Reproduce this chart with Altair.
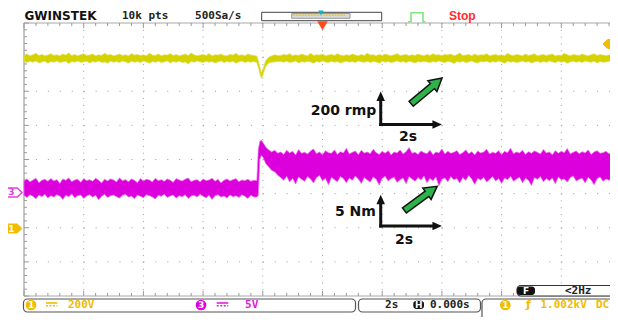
import altair as alt
import pandas as pd

# ---------------- data (read from the screen) ----------------
# time base in seconds (2 s/div, trigger at 0 s)
T_PRE = [-10.0, -9.9, -9.8, -9.7, -9.6, -9.5, -9.4, -9.3, -9.2, -9.1,
         -9.0, -8.9, -8.8, -8.7, -8.6, -8.5, -8.4, -8.3, -8.2, -8.1,
         -8.0, -7.9, -7.8, -7.7, -7.6, -7.5, -7.4, -7.3, -7.2, -7.1,
         -7.0, -6.9, -6.8, -6.7, -6.6, -6.5, -6.4, -6.3, -6.2, -6.1,
         -6.0, -5.9, -5.8, -5.7, -5.6, -5.5, -5.4, -5.3, -5.2, -5.1,
         -5.0, -4.9, -4.8, -4.7, -4.6, -4.5, -4.4, -4.3, -4.2, -4.1,
         -4.0, -3.9, -3.8, -3.7, -3.6, -3.5, -3.4, -3.3, -3.2, -3.1,
         -3.0, -2.9, -2.8, -2.7, -2.6, -2.5, -2.4, -2.3]
T_EVT = [-2.2, -2.15, -2.1, -2.05, -2.0, -1.95, -1.9, -1.8, -1.7, -1.6, -1.5]
T_POST = [-1.4, -1.3, -1.2, -1.1, -1.0, -0.9, -0.8, -0.7, -0.6, -0.5,
          -0.4, -0.3, -0.2, -0.1, 0.0, 0.1, 0.2, 0.3, 0.4, 0.5,
          0.6, 0.7, 0.8, 0.9, 1.0, 1.1, 1.2, 1.3, 1.4, 1.5,
          1.6, 1.7, 1.8, 1.9, 2.0, 2.1, 2.2, 2.3, 2.4, 2.5,
          2.6, 2.7, 2.8, 2.9, 3.0, 3.1, 3.2, 3.3, 3.4, 3.5,
          3.6, 3.7, 3.8, 3.9, 4.0, 4.1, 4.2, 4.3, 4.4, 4.5,
          4.6, 4.7, 4.8, 4.9, 5.0, 5.1, 5.2, 5.3, 5.4, 5.5,
          5.6, 5.7, 5.8, 5.9, 6.0, 6.1, 6.2, 6.3, 6.4, 6.5,
          6.6, 6.7, 6.8, 6.9, 7.0, 7.1, 7.2, 7.3, 7.4, 7.5,
          7.6, 7.7, 7.8, 7.9, 8.0, 8.1, 8.2, 8.3, 8.4, 8.5,
          8.6, 8.7, 8.8, 8.9, 9.0, 9.1, 9.2, 9.3, 9.4, 9.5,
          9.6, 9.7, 9.8, 9.9, 10.0]

# CH1 (yellow, speed) noise envelope, in divisions
CH1_HI_PRE = [3.06, 3.09, 3.04, 3.07, 3.11, 3.05, 3.08, 3.04, 3.06, 3.10,
              3.05, 3.07, 3.04, 3.09, 3.06, 3.12, 3.05, 3.08, 3.04, 3.07,
              3.10, 3.05, 3.06, 3.09, 3.04, 3.07, 3.05, 3.11, 3.06, 3.08,
              3.04, 3.06, 3.09, 3.05, 3.07, 3.04, 3.10, 3.06, 3.08, 3.05,
              3.07, 3.04, 3.11, 3.06, 3.05, 3.09, 3.04, 3.07, 3.06, 3.10,
              3.05, 3.08, 3.04, 3.06, 3.09, 3.05, 3.12, 3.07, 3.04, 3.06,
              3.08, 3.05, 3.10, 3.04, 3.07, 3.06, 3.09, 3.05, 3.04, 3.08,
              3.06, 3.11, 3.05, 3.07, 3.04, 3.09, 3.06, 3.05]
CH1_LO_PRE = [2.87, 2.84, 2.88, 2.85, 2.89, 2.83, 2.86, 2.88, 2.82, 2.87,
              2.85, 2.89, 2.84, 2.86, 2.88, 2.81, 2.87, 2.85, 2.89, 2.84,
              2.86, 2.88, 2.83, 2.87, 2.85, 2.89, 2.84, 2.86, 2.82, 2.88,
              2.85, 2.87, 2.84, 2.89, 2.86, 2.83, 2.88, 2.85, 2.87, 2.84,
              2.89, 2.86, 2.82, 2.87, 2.85, 2.88, 2.84, 2.86, 2.89, 2.83,
              2.87, 2.85, 2.88, 2.84, 2.86, 2.80, 2.87, 2.85, 2.89, 2.86,
              2.84, 2.88, 2.85, 2.87, 2.83, 2.86, 2.89, 2.84, 2.87, 2.85,
              2.88, 2.82, 2.86, 2.89, 2.84, 2.87, 2.85, 2.87]
CH1_HI_EVT = [3.03, 2.90, 2.72, 2.55, 2.64, 2.78, 2.90, 3.00, 3.04, 3.07, 3.05]
CH1_LO_EVT = [2.84, 2.70, 2.52, 2.38, 2.46, 2.60, 2.73, 2.83, 2.85, 2.86, 2.87]
CH1_HI_POST = [3.05, 3.08, 3.06, 3.10, 3.04, 3.07, 3.05, 3.09, 3.06, 3.04,
               3.11, 3.05, 3.07, 3.06, 3.09, 3.04, 3.06, 3.08, 3.05, 3.10,
               3.06, 3.04, 3.07, 3.05, 3.09, 3.06, 3.04, 3.08, 3.05, 3.11,
               3.06, 3.07, 3.04, 3.08, 3.05, 3.09, 3.06, 3.04, 3.07, 3.10,
               3.05, 3.06, 3.08, 3.04, 3.07, 3.05, 3.09, 3.06, 3.04, 3.08,
               3.05, 3.10, 3.06, 3.07, 3.05, 3.08, 3.06, 3.09, 3.04, 3.07,
               3.12, 3.05, 3.06, 3.08, 3.04, 3.09, 3.05, 3.07, 3.06, 3.10,
               3.04, 3.06, 3.08, 3.05, 3.07, 3.04, 3.11, 3.06, 3.05, 3.08,
               3.06, 3.04, 3.09, 3.05, 3.07, 3.10, 3.04, 3.06, 3.08, 3.05,
               3.07, 3.09, 3.04, 3.06, 3.05, 3.11, 3.07, 3.04, 3.08, 3.06,
               3.05, 3.09, 3.06, 3.04, 3.07, 3.10, 3.05, 3.08, 3.06, 3.04,
               3.07, 3.05, 3.09, 3.06, 3.08]
CH1_LO_POST = [2.87, 2.85, 2.88, 2.84, 2.86, 2.89, 2.83, 2.87, 2.85, 2.88,
               2.86, 2.82, 2.87, 2.85, 2.89, 2.86, 2.84, 2.88, 2.85, 2.87,
               2.83, 2.86, 2.88, 2.85, 2.87, 2.84, 2.89, 2.86, 2.85, 2.88,
               2.84, 2.87, 2.86, 2.82, 2.88, 2.85, 2.87, 2.84, 2.86, 2.89,
               2.85, 2.87, 2.84, 2.88, 2.86, 2.83, 2.87, 2.85, 2.88, 2.86,
               2.84, 2.87, 2.85, 2.89, 2.86, 2.84, 2.88, 2.86, 2.81, 2.87,
               2.85, 2.88, 2.84, 2.86, 2.89, 2.85, 2.83, 2.87, 2.86, 2.88,
               2.84, 2.87, 2.85, 2.89, 2.86, 2.82, 2.88, 2.85, 2.87, 2.84,
               2.86, 2.89, 2.85, 2.87, 2.83, 2.86, 2.88, 2.84, 2.87, 2.85,
               2.89, 2.86, 2.84, 2.88, 2.85, 2.87, 2.82, 2.86, 2.88, 2.85,
               2.87, 2.84, 2.89, 2.86, 2.85, 2.88, 2.83, 2.87, 2.85, 2.86,
               2.88, 2.84, 2.87, 2.85, 2.86]

# CH3 (magenta, torque) noise envelope, in divisions
CH3_HI_PRE = [-0.62, -0.57, -0.66, -0.60, -0.55, -0.68, -0.61, -0.58, -0.64, -0.56,
              -0.63, -0.59, -0.70, -0.57, -0.61, -0.54, -0.65, -0.60, -0.58, -0.67,
              -0.56, -0.62, -0.59, -0.64, -0.55, -0.61, -0.69, -0.58, -0.63, -0.57,
              -0.60, -0.66, -0.54, -0.62, -0.59, -0.65, -0.57, -0.61, -0.68, -0.56,
              -0.63, -0.58, -0.60, -0.66, -0.55, -0.62, -0.59, -0.64, -0.57, -0.61,
              -0.67, -0.56, -0.60, -0.63, -0.58, -0.54, -0.65, -0.61, -0.59, -0.66,
              -0.57, -0.62, -0.60, -0.55, -0.64, -0.58, -0.69, -0.61, -0.57, -0.63,
              -0.59, -0.56, -0.65, -0.60, -0.62, -0.58, -0.64, -0.61]
CH3_LO_PRE = [-1.05, -1.11, -1.03, -1.08, -1.15, -1.04, -1.09, -1.02, -1.13, -1.06,
              -1.10, -1.03, -1.07, -1.17, -1.05, -1.09, -1.01, -1.12, -1.06, -1.04,
              -1.14, -1.07, -1.03, -1.10, -1.05, -1.18, -1.08, -1.02, -1.11, -1.06,
              -1.04, -1.09, -1.13, -1.05, -1.02, -1.10, -1.07, -1.15, -1.04, -1.08,
              -1.12, -1.03, -1.06, -1.10, -1.16, -1.05, -1.08, -1.02, -1.11, -1.07,
              -1.04, -1.13, -1.06, -1.09, -1.03, -1.14, -1.07, -1.05, -1.10, -1.02,
              -1.08, -1.12, -1.05, -1.17, -1.06, -1.03, -1.10, -1.07, -1.13, -1.04,
              -1.09, -1.06, -1.11, -1.03, -1.08, -1.14, -1.05, -1.10]
CH3_HI_EVT = [-0.62, 0.30, 0.52, 0.57, 0.50, 0.44, 0.36, 0.28, 0.22, 0.27, 0.18]
CH3_LO_EVT = [-1.10, -1.05, 0.00, 0.12, 0.08, -0.02, -0.12, -0.22, -0.32, -0.36, -0.46]
CH3_HI_POST = [0.22, 0.15, 0.27, 0.19, 0.24, 0.13, 0.29, 0.18, 0.21, 0.16,
               0.25, 0.31, 0.17, 0.22, 0.14, 0.26, 0.20, 0.18, 0.28, 0.15,
               0.23, 0.19, 0.33, 0.16, 0.21, 0.25, 0.14, 0.27, 0.19, 0.22,
               0.17, 0.30, 0.20, 0.15, 0.24, 0.18, 0.26, 0.13, 0.22, 0.19,
               0.28, 0.16, 0.23, 0.35, 0.18, 0.21, 0.15, 0.25, 0.20, 0.17,
               0.27, 0.14, 0.22, 0.19, 0.31, 0.16, 0.24, 0.18, 0.21, 0.26,
               0.15, 0.20, 0.28, 0.17, 0.23, 0.13, 0.25, 0.19, 0.22, 0.30,
               0.16, 0.21, 0.18, 0.26, 0.14, 0.24, 0.20, 0.33, 0.17, 0.22,
               0.19, 0.27, 0.15, 0.23, 0.18, 0.25, 0.21, 0.16, 0.29, 0.19,
               0.22, 0.14, 0.26, 0.18, 0.24, 0.20, 0.32, 0.16, 0.21, 0.25,
               0.17, 0.23, 0.19, 0.28, 0.15, 0.22, 0.26, 0.18, 0.20, 0.24,
               0.16, 0.27, 0.21, 0.18, 0.23]
CH3_LO_POST = [-0.53, -0.61, -0.49, -0.66, -0.55, -0.72, -0.51, -0.58, -0.64, -0.50,
               -0.57, -0.69, -0.53, -0.47, -0.62, -0.55, -0.74, -0.52, -0.59, -0.65,
               -0.50, -0.56, -0.68, -0.54, -0.61, -0.48, -0.57, -0.70, -0.53, -0.60,
               -0.66, -0.51, -0.58, -0.75, -0.55, -0.49, -0.63, -0.56, -0.52, -0.67,
               -0.59, -0.54, -0.71, -0.50, -0.57, -0.64, -0.53, -0.60, -0.48, -0.68,
               -0.55, -0.62, -0.51, -0.77, -0.58, -0.54, -0.65, -0.50, -0.59, -0.56,
               -0.69, -0.53, -0.61, -0.47, -0.57, -0.73, -0.55, -0.60, -0.52, -0.66,
               -0.58, -0.50, -0.63, -0.56, -0.70, -0.54, -0.59, -0.49, -0.64, -0.57,
               -0.52, -0.68, -0.55, -0.61, -0.76, -0.53, -0.58, -0.50, -0.65, -0.56,
               -0.62, -0.54, -0.71, -0.51, -0.59, -0.57, -0.66, -0.53, -0.48, -0.63,
               -0.58, -0.55, -0.69, -0.52, -0.60, -0.74, -0.56, -0.51, -0.64, -0.57,
               -0.61, -0.53, -0.67, -0.55, -0.59]

# screen graticule: 10 x 8 divisions, 5 minor steps each
GRID_T = [-8, -6, -4, -2, 0, 2, 4, 6, 8]
GRID_V = [-3, -2, -1, 0, 1, 2, 3]

# texts
HEADER_MONO = ["10k pts", "500Sa/s"]
LOGO = "GWINSTEK"
STATE = "Stop"
CH1_SCALE = "200V"
CH3_SCALE = "5V"
TIMEBASE = "2s"
HPOS = "0.000s"
TRIG_LEVEL = "1.002kV"
TRIG_COUPLING = "DC"
TRIG_FREQ = "<2Hz"
ANNOT_SPEED = "200 rmp"
ANNOT_TORQUE = "5 Nm"
ANNOT_TIME = "2s"

# ---------------- scales (screen in seconds x divisions) ----------------
XS = alt.Scale(domain=[-10, 10], range=[16, 613], nice=False, zero=False)
YS = alt.Scale(domain=[-4, 4], range=[288, 15], nice=False, zero=False)


def ex(f):
    return alt.X(f, type="quantitative", scale=XS, axis=None)


def ey(f):
    return alt.Y(f, type="quantitative", scale=YS, axis=None)


def D(**cols):
    return pd.DataFrame(cols)


layers = []

# graticule dots
layers.append(alt.Chart(D(t=GRID_T, a=[4.0] * len(GRID_T), b=[-4.0] * len(GRID_T)))
              .mark_rule(color="#9c9c9c", strokeWidth=1, strokeDash=[1, 5.825])
              .encode(x=ex("t"), y=ey("a"), y2=alt.Y2("b")))
layers.append(alt.Chart(D(v=GRID_V, a=[-10.0] * len(GRID_V), b=[10.0] * len(GRID_V)))
              .mark_rule(color="#9c9c9c", strokeWidth=1, strokeDash=[1, 10.94])
              .encode(x=ex("a"), x2=alt.X2("b"), y=ey("v")))

# border rulers
layers.append(alt.Chart(D(a=[-10.0, -10.0], b=[10.0, 10.0], v=[4.0, -4.0]))
              .mark_rule(color="#a8a8a8", strokeWidth=1)
              .encode(x=ex("a"), x2=alt.X2("b"), y=ey("v")))
layers.append(alt.Chart(D(t=[-10.0], a=[-4.0], b=[4.0]))
              .mark_rule(color="#8a8a8a", strokeWidth=1)
              .encode(x=ex("t"), y=ey("a"), y2=alt.Y2("b")))
nt = 51
top_t = [-10 + 0.4 * k for k in range(nt)]
layers.append(alt.Chart(D(t=top_t, a=[4.0] * nt,
                          b=[4.0 - (0.15 if k % 5 == 0 else 0.09) for k in range(nt)]))
              .mark_rule(color="#9a9a9a", strokeWidth=1)
              .encode(x=ex("t"), y=ey("a"), y2=alt.Y2("b")))
layers.append(alt.Chart(D(t=top_t, a=[-4.0] * nt,
                          b=[-4.0 + (0.15 if k % 5 == 0 else 0.09) for k in range(nt)]))
              .mark_rule(color="#9a9a9a", strokeWidth=1)
              .encode(x=ex("t"), y=ey("a"), y2=alt.Y2("b")))
nv = 41
layers.append(alt.Chart(D(v=[-4 + 0.2 * k for k in range(nv)], a=[-10.0] * nv,
                          b=[-10.0 + (0.17 if k % 5 == 0 else 0.1) for k in range(nv)]))
              .mark_rule(color="#9a9a9a", strokeWidth=1)
              .encode(x=ex("a"), x2=alt.X2("b"), y=ey("v")))

# traces
T_ALL = T_PRE + T_EVT + T_POST
ch1 = D(t=T_ALL, hi=CH1_HI_PRE + CH1_HI_EVT + CH1_HI_POST,
        lo=CH1_LO_PRE + CH1_LO_EVT + CH1_LO_POST)
ch3 = D(t=T_ALL, hi=CH3_HI_PRE + CH3_HI_EVT + CH3_HI_POST,
        lo=CH3_LO_PRE + CH3_LO_EVT + CH3_LO_POST)
layers.append(alt.Chart(ch1).mark_area(color="#d4d300", opacity=1, stroke="#e0e060", strokeWidth=0.7)
              .encode(x=ex("t"), y=ey("hi"), y2=alt.Y2("lo")))
layers.append(alt.Chart(ch3).mark_area(color="#dc00dc", opacity=1, stroke="#ea6aea", strokeWidth=0.7)
              .encode(x=ex("t"), y=ey("hi"), y2=alt.Y2("lo")))

# channel / trigger level tags
TAG_R = "M-1,-0.56L0.4,-0.56L1,0L0.4,0.56L-1,0.56Z"
TAG_L = "M1,-0.56L-0.4,-0.56L-1,0L-0.4,0.56L1,0.56Z"
layers.append(alt.Chart(D(t=[-10.335], v=[-0.967]))
              .mark_point(shape=TAG_R, size=256, filled=True, fill="white", stroke="#e040e0",
                          strokeWidth=1.4, opacity=1)
              .encode(x=ex("t"), y=ey("v")))
layers.append(alt.Chart(D(t=[-10.335], v=[-2.022]))
              .mark_point(shape=TAG_R, size=256, filled=True, fill="#f2bd00", stroke="#f2bd00",
                          strokeWidth=1, opacity=1)
              .encode(x=ex("t"), y=ey("v")))
layers.append(alt.Chart(D(t=[9.665], v=[3.385]))
              .mark_point(shape=TAG_L, size=256, filled=True, fill="#f2bd00", stroke="#f2bd00",
                          strokeWidth=1, opacity=1)
              .encode(x=ex("t"), y=ey("v")))
layers.append(alt.Chart(D(t=[-10.42], v=[-0.967], label=["3"]))
              .mark_text(align="center", baseline="middle", color="#e040e0", fontSize=9,
                         font="DejaVu Sans", fontWeight="bold")
              .encode(x=ex("t"), y=ey("v"), text="label:N"))
layers.append(alt.Chart(D(t=[-10.42], v=[-2.022], label=["1"]))
              .mark_text(align="center", baseline="middle", color="white", fontSize=9,
                         font="DejaVu Sans", fontWeight="bold")
              .encode(x=ex("t"), y=ey("v"), text="label:N"))

# ---------------- header ----------------
layers.append(alt.Chart(D(a=[-2.037], b=[1.983], c=[4.067], d=[4.314]))
              .mark_rect(fill="white", stroke="#444444", strokeWidth=1)
              .encode(x=ex("a"), x2=alt.X2("b"), y=ey("c"), y2=alt.Y2("d")))
layers.append(alt.Chart(D(a=[-1.032], b=[0.921], c=[4.138], d=[4.278]))
              .mark_rect(fill="#d9d9d9", stroke="#9a9a9a", strokeWidth=1)
              .encode(x=ex("a"), x2=alt.X2("b"), y=ey("c"), y2=alt.Y2("d")))
layers.append(alt.Chart(D(a=[-1.0], b=[0.75], v=[4.228]))
              .mark_rule(color="#e8c400", strokeWidth=1.2, strokeDash=[2, 1])
              .encode(x=ex("a"), x2=alt.X2("b"), y=ey("v")))
layers.append(alt.Chart(D(t=[-0.05], v=[4.30]))
              .mark_point(shape="triangle-down", size=30, filled=True, color="#00b8d8", opacity=1)
              .encode(x=ex("t"), y=ey("v")))
layers.append(alt.Chart(D(o=[0, 1, 2, 3, 4, 5],
                          t=[2.864, 2.965, 2.965, 3.367, 3.367, 3.451],
                          v=[4.038, 4.038, 4.302, 4.302, 4.038, 4.038]))
              .mark_line(color="#7ee87e", strokeWidth=1.6)
              .encode(x=ex("t"), y=ey("v"), order="o:Q"))
layers.append(alt.Chart(D(t=[0.0], v=[3.918]))
              .mark_point(shape="triangle-down", size=110, filled=True, color="#ff4a1a", opacity=1)
              .encode(x=ex("t"), y=ey("v")))
layers.append(alt.Chart(D(t=[-9.983], v=[4.196], label=[LOGO]))
              .mark_text(align="left", baseline="middle", color="#111111", fontSize=12,
                         font="DejaVu Sans", fontWeight="bold")
              .encode(x=ex("t"), y=ey("v"), text="label:N"))
layers.append(alt.Chart(D(t=[-6.717, -4.271], v=[4.196, 4.196], label=HEADER_MONO))
              .mark_text(align="left", baseline="middle", color="#222222", fontSize=11,
                         font="DejaVu Sans Mono", fontWeight="bold")
              .encode(x=ex("t"), y=ey("v"), text="label:N"))
layers.append(alt.Chart(D(t=[4.238], v=[4.196], label=[STATE]))
              .mark_text(align="left", baseline="middle", color="#ff2a2a", fontSize=12,
                         font="Liberation Sans", fontWeight="bold")
              .encode(x=ex("t"), y=ey("v"), text="label:N"))

# ---------------- status bar ----------------
layers.append(alt.Chart(D(a=[-10.017, 1.206, 5.343], b=[1.106, 5.293, 10.97],
                          c=[-4.469, -4.469, -4.82], d=[-4.088, -4.088, -4.088]))
              .mark_rect(fill="white", stroke="#555555", strokeWidth=1.2, cornerRadius=4)
              .encode(x=ex("a"), x2=alt.X2("b"), y=ey("c"), y2=alt.Y2("d")))
layers.append(alt.Chart(D(a=[6.516], b=[10.97], c=[-4.0], d=[-3.692]))
              .mark_rect(fill="white", stroke="#333333", strokeWidth=1.2, cornerRadius=4)
              .encode(x=ex("a"), x2=alt.X2("b"), y=ey("c"), y2=alt.Y2("d")))
layers.append(alt.Chart(D(a=[6.516, 3.042], b=[7.119, 3.400], c=[-3.971, -4.381], d=[-3.722, -4.138]))
              .mark_rect(fill="#111111", cornerRadius=3)
              .encode(x=ex("a"), x2=alt.X2("b"), y=ey("c"), y2=alt.Y2("d")))
layers.append(alt.Chart(D(t=[-9.765, 6.124], v=[-4.264, -4.264]))
              .mark_point(shape="circle", size=115, filled=True, color="#f2bd00", opacity=1)
              .encode(x=ex("t"), y=ey("v")))
layers.append(alt.Chart(D(t=[-4.07], v=[-4.264]))
              .mark_point(shape="circle", size=115, filled=True, color="#e000e0", opacity=1)
              .encode(x=ex("t"), y=ey("v")))
layers.append(alt.Chart(D(t=[-9.765, -4.07, 6.124, 3.221, 6.817], v=[-4.264, -4.264, -4.264, -4.262, -3.846],
                          label=["1", "3", "1", "H", "F"]))
              .mark_text(align="center", baseline="middle", color="white", fontSize=9,
                         font="DejaVu Sans", fontWeight="bold")
              .encode(x=ex("t"), y=ey("v"), text="label:N"))
# coupling symbols (solid over dashed)
layers.append(alt.Chart(D(a=[-9.263], b=[-8.884], v=[-4.205]))
              .mark_rule(color="#f2bd00", strokeWidth=1.6)
              .encode(x=ex("a"), x2=alt.X2("b"), y=ey("v")))
layers.append(alt.Chart(D(a=[-9.263], b=[-8.884], v=[-4.285]))
              .mark_rule(color="#f2bd00", strokeWidth=1.6, strokeDash=[2, 1.5])
              .encode(x=ex("a"), x2=alt.X2("b"), y=ey("v")))
layers.append(alt.Chart(D(a=[-3.544], b=[-3.156], v=[-4.205]))
              .mark_rule(color="#e020e0", strokeWidth=1.6)
              .encode(x=ex("a"), x2=alt.X2("b"), y=ey("v")))
layers.append(alt.Chart(D(a=[-3.544], b=[-3.156], v=[-4.285]))
              .mark_rule(color="#e020e0", strokeWidth=1.6, strokeDash=[2, 1.5])
              .encode(x=ex("a"), x2=alt.X2("b"), y=ey("v")))
layers.append(alt.Chart(D(t=[-8.526, 7.303, 9.162], v=[-4.264] * 3, label=[CH1_SCALE, TRIG_LEVEL, TRIG_COUPLING]))
              .mark_text(align="left", baseline="middle", color="#f2bb00", fontSize=11,
                         font="DejaVu Sans Mono", fontWeight="bold")
              .encode(x=ex("t"), y=ey("v"), text="label:N"))
layers.append(alt.Chart(D(t=[6.901], v=[-4.264], label=["ƒ"]))
              .mark_text(align="center", baseline="middle", color="#f2bb00", fontSize=11,
                         font="DejaVu Sans", fontWeight="bold")
              .encode(x=ex("t"), y=ey("v"), text="label:N"))
layers.append(alt.Chart(D(t=[-2.596], v=[-4.264], label=[CH3_SCALE]))
              .mark_text(align="left", baseline="middle", color="#e020e0", fontSize=11,
                         font="DejaVu Sans Mono", fontWeight="bold")
              .encode(x=ex("t"), y=ey("v"), text="label:N"))
layers.append(alt.Chart(D(t=[2.094, 3.601, 8.124], v=[-4.264, -4.264, -3.846], label=[TIMEBASE, HPOS, TRIG_FREQ]))
              .mark_text(align="left", baseline="middle", color="#222222", fontSize=11,
                         font="DejaVu Sans Mono", fontWeight="bold")
              .encode(x=ex("t"), y=ey("v"), text="label:N"))

# ---------------- annotations ----------------
layers.append(alt.Chart(D(t=[-0.395, 2.563, 0.419, 2.429], v=[1.421, 0.659, -1.538, -2.359],
                          label=[ANNOT_SPEED, ANNOT_TIME, ANNOT_TORQUE, ANNOT_TIME]))
              .mark_text(align="left", baseline="middle", color="#111111", fontSize=14,
                         font="DejaVu Sans", fontWeight="bold")
              .encode(x=ex("t"), y=ey("v"), text="label:N"))
# axis arrows
layers.append(alt.Chart(D(t=[1.95, 1.95], a=[0.98, -1.993], b=[1.86, -1.18]))
              .mark_rule(color="#111111", strokeWidth=3)
              .encode(x=ex("t"), y=ey("a"), y2=alt.Y2("b")))
layers.append(alt.Chart(D(a=[1.90, 1.90], b=[3.84, 3.84], v=[1.026, -1.949]))
              .mark_rule(color="#111111", strokeWidth=3)
              .encode(x=ex("a"), x2=alt.X2("b"), y=ey("v")))
layers.append(alt.Chart(D(t=[1.95, 1.95], v=[1.855, -1.172]))
              .mark_point(shape="M0,-1L0.9,1L-0.9,1Z", size=90, filled=True, color="#111111", opacity=1)
              .encode(x=ex("t"), y=ey("v")))
layers.append(alt.Chart(D(t=[3.842, 3.842], v=[1.026, -1.949]))
              .mark_point(shape="M1,0L-1,-0.9L-1,0.9Z", size=90, filled=True, color="#111111", opacity=1)
              .encode(x=ex("t"), y=ey("v")))
# green arrows
layers.append(alt.Chart(D(a=[2.951, 2.724], c=[1.618, -1.506], b=[3.826, 3.652], d=[2.256, -0.908]))
              .mark_rule(color="#111111", strokeWidth=8)
              .encode(x=ex("a"), y=ey("c"), x2=alt.X2("b"), y2=alt.Y2("d")))
layers.append(alt.Chart(D(t=[3.826], v=[2.256]))
              .mark_point(shape="M0,-1L1,0.8L-1,0.8Z", size=196, filled=True, fill="#2db34a",
                          stroke="#111111", strokeWidth=1.5, opacity=1, angle=50)
              .encode(x=ex("t"), y=ey("v")))
layers.append(alt.Chart(D(t=[3.652], v=[-0.908]))
              .mark_point(shape="M0,-1L1,0.8L-1,0.8Z", size=196, filled=True, fill="#2db34a",
                          stroke="#111111", strokeWidth=1.5, opacity=1, angle=54)
              .encode(x=ex("t"), y=ey("v")))
layers.append(alt.Chart(D(a=[2.99, 2.764], c=[1.646, -1.480], b=[3.80, 3.63], d=[2.235, -0.925]))
              .mark_rule(color="#2db34a", strokeWidth=5)
              .encode(x=ex("a"), y=ey("c"), x2=alt.X2("b"), y2=alt.Y2("d")))

chart = alt.layer(*layers).properties(
    width=602, height=309, padding=0, background="white",
    autosize=alt.AutoSizeParams(type="none"),
).configure_view(stroke=None)

chart.save("out.html", embed_options={"renderer": "svg", "actions": False})
